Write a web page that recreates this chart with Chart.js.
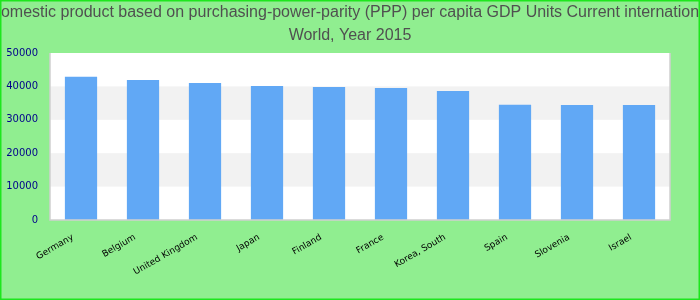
<!DOCTYPE html>
<html>
<head>
<meta charset="utf-8">
<script src="https://cdn.jsdelivr.net/npm/chart.js@4/dist/chart.umd.min.js"></script>
<style>
  html, body { margin: 0; padding: 0; background: #90ee90; }
  #wrap { width: 700px; height: 300px; }
</style>
</head>
<body>
<div id="wrap"><canvas id="c" width="700" height="300"></canvas></div>
<script>
const categories = ["Germany", "Belgium", "United Kingdom", "Japan", "Finland", "France", "Korea, South", "Spain", "Slovenia", "Israel"];
const gdpValues = [42900, 41900, 41000, 40100, 39800, 39500, 38600, 34500, 34400, 34400];
const yTicks = [0, 10000, 20000, 30000, 40000, 50000];
const titleLines = ["Gross domestic product based on purchasing-power-parity (PPP) per capita GDP Units Current international dollar", "World, Year 2015"];

const decor = {
  id: 'decor',
  beforeDraw(chart) {
    const ctx = chart.ctx;
    const a = chart.chartArea;
    const y = chart.scales.y;
    ctx.save();
    ctx.fillStyle = '#90ee90';
    ctx.fillRect(0, 0, chart.width, chart.height);
    ctx.fillStyle = '#ffffff';
    ctx.fillRect(a.left, a.top, a.right - a.left, a.bottom - a.top);
    ctx.fillStyle = '#f2f2f2';
    for (let i = 1; i < yTicks.length - 1; i += 2) {
      const t = y.getPixelForValue(yTicks[i + 1]);
      const b = y.getPixelForValue(yTicks[i]);
      ctx.fillRect(a.left, t, a.right - a.left, b - t);
    }
    // title (centred, allowed to overflow the canvas like the reference)
    ctx.fillStyle = '#505050';
    ctx.font = '16px "Liberation Sans", Arial, sans-serif';
    ctx.textAlign = 'center';
    ctx.textBaseline = 'middle';
    const cx = chart.width / 2;
    titleLines.forEach((line, i) => ctx.fillText(line, cx, 13 + i * 23));
    ctx.restore();
  },
  afterDraw(chart) {
    const ctx = chart.ctx;
    const a = chart.chartArea;
    ctx.save();
    ctx.strokeStyle = '#d0d0d0';
    ctx.lineWidth = 1.5;
    ctx.beginPath();
    ctx.moveTo(a.left, a.top);
    ctx.lineTo(a.left, a.bottom);
    ctx.lineTo(a.right, a.bottom);
    ctx.lineTo(a.right, a.top);
    ctx.stroke();
    ctx.strokeStyle = '#1ee61e';
    ctx.lineWidth = 1.5;
    ctx.strokeRect(0.75, 0.75, chart.width - 1.5, chart.height - 1.5);
    ctx.restore();
  }
};

new Chart(document.getElementById('c'), {
  type: 'bar',
  data: {
    labels: categories,
    datasets: [{
      data: gdpValues,
      backgroundColor: '#61a8f5',
      borderWidth: 0,
      categoryPercentage: 1,
      barPercentage: 0.52
    }]
  },
  options: {
    responsive: false,
    animation: false,
    devicePixelRatio: 1,
    layout: { padding: { left: 0, right: 30, top: 53, bottom: 0 } },
    plugins: {
      legend: { display: false },
      tooltip: { enabled: false },
      title: { display: false }
    },
    scales: {
      x: {
        grid: { display: false, drawTicks: false },
        border: { display: false },
        afterFit(scale) { scale.height = 80; },
        ticks: {
          color: '#000000',
          font: { family: 'DejaVu Sans', size: 9 },
          minRotation: 30,
          maxRotation: 30,
          autoSkip: false,
          padding: 12,
          labelOffset: -8
        }
      },
      y: {
        min: 0,
        max: 50000,
        grid: { display: false, drawTicks: false },
        border: { display: false },
        afterFit(scale) { scale.width = 50; },
        afterBuildTicks(scale) { scale.ticks = yTicks.map(v => ({ value: v })); },
        ticks: {
          color: '#00008b',
          font: { family: 'DejaVu Sans', size: 10 },
          padding: 12,
          callback: (v) => String(v)
        }
      }
    }
  },
  plugins: [decor]
});
</script>
</body>
</html>
